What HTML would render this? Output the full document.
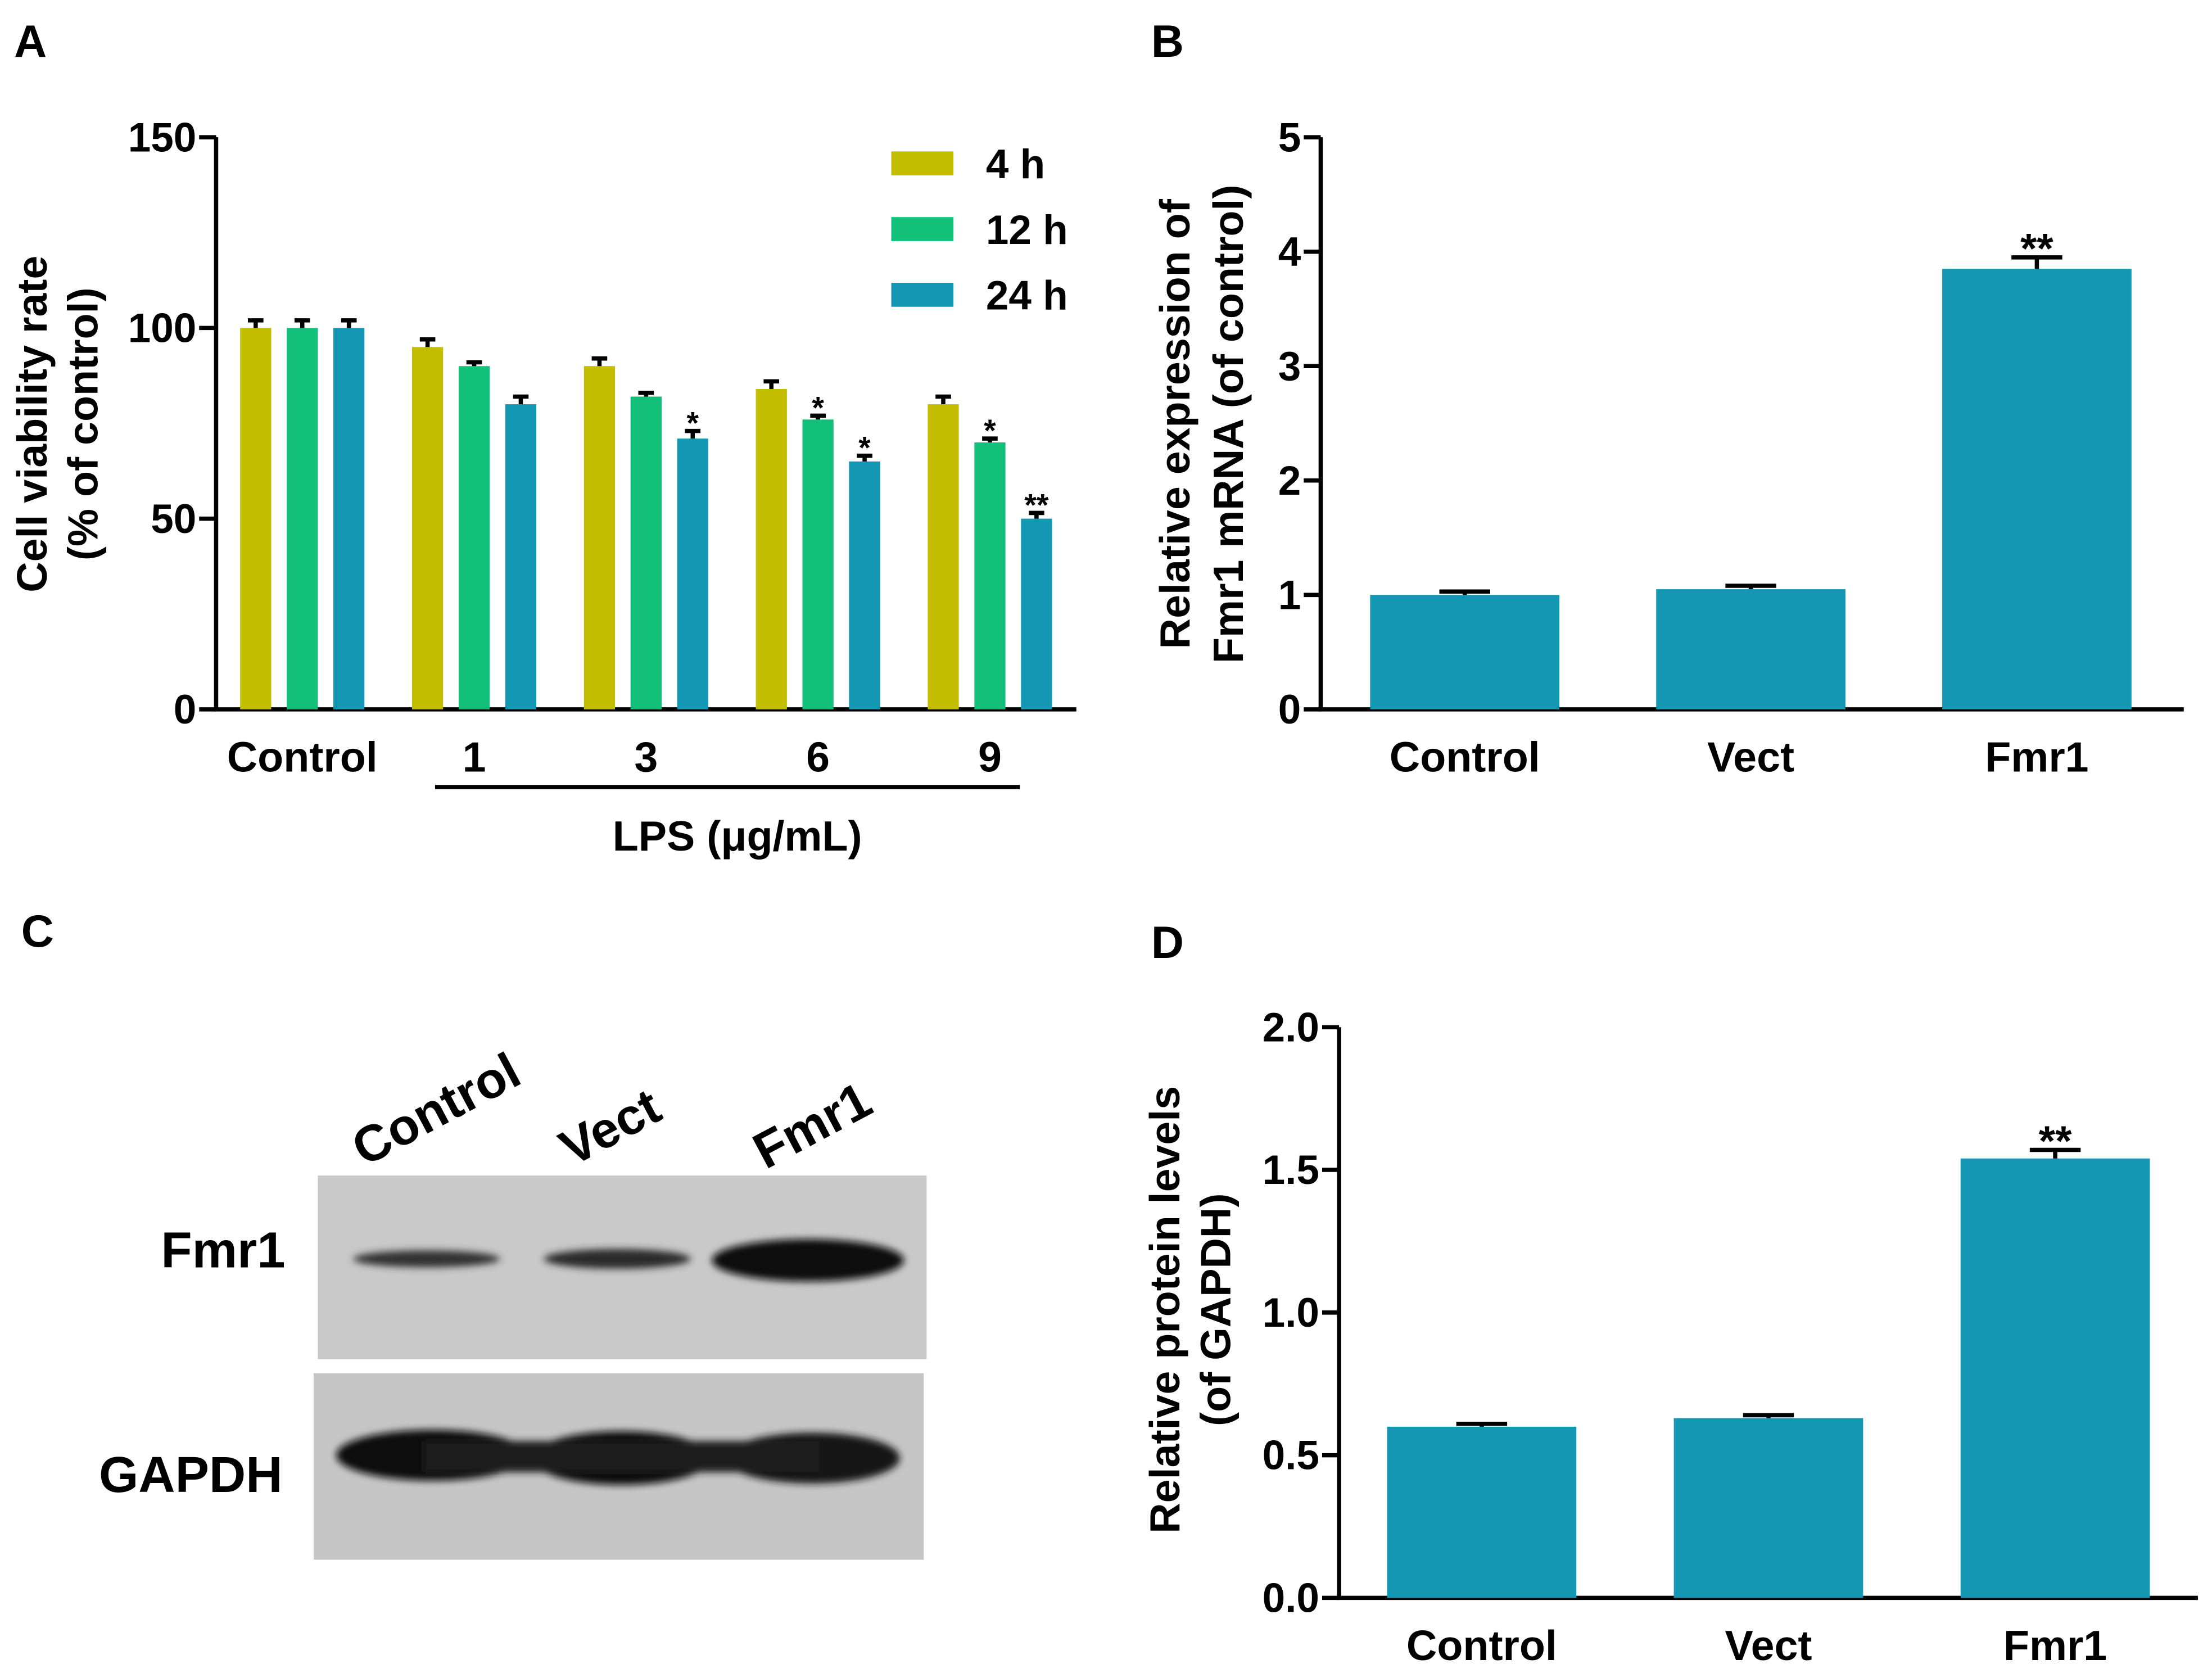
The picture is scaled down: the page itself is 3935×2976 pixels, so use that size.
<!DOCTYPE html>
<html><head><meta charset="utf-8"><style>
html,body{margin:0;padding:0;background:#fff}
svg{display:block}
text{font-family:"Liberation Sans",Arial,sans-serif;font-weight:bold;fill:#000}
</style></head><body>
<svg id="fig" width="3935" height="2976" viewBox="0 0 1566 1184" xmlns="http://www.w3.org/2000/svg">
<rect width="1566" height="1184" fill="#fff"/>
<text x="10" y="40" font-size="32">A</text>
<text x="815" y="40" font-size="32">B</text>
<text x="15" y="670" font-size="32">C</text>
<text x="815" y="678" font-size="32">D</text>

<g>
<defs>
<filter id="blur1"><feGaussianBlur stdDeviation="2.5"/></filter>
</defs>
<text x="0" y="0" font-size="36" transform="translate(258,826) rotate(-28)">Control</text>
<text x="0" y="0" font-size="36" transform="translate(405,826) rotate(-28)">Vect</text>
<text x="0" y="0" font-size="36" transform="translate(542,828) rotate(-28)">Fmr1</text>
<text x="202" y="897" font-size="36" text-anchor="end">Fmr1</text>
<text x="200" y="1056" font-size="36" text-anchor="end">GAPDH</text>
<rect x="225" y="832" width="431" height="130" fill="#c9c9c9"/>
<rect x="222" y="972" width="432" height="132" fill="#c6c6c6"/>
<g filter="url(#blur1)">
<ellipse cx="302" cy="891" rx="52" ry="6" fill="#333"/>
<ellipse cx="437" cy="891" rx="52" ry="7" fill="#2c2c2c"/>
<ellipse cx="572" cy="892" rx="68" ry="15" fill="#111"/>
<ellipse cx="306" cy="1030" rx="68" ry="18" fill="#111"/>
<ellipse cx="440" cy="1032" rx="64" ry="19" fill="#111"/>
<ellipse cx="575" cy="1032" rx="62" ry="18" fill="#151515"/>
<rect x="300" y="1020" width="280" height="22" fill="#1a1a1a"/>
</g>
</g>
<g id="charts"></g>
</svg>
<script>
const catsA = ["Control","1","3","6","9"];
const seriesNamesA = ["4 h","12 h","24 h"];
const vals4h = [100,95,90,84,80];
const vals12h = [100,90,82,76,70];
const vals24h = [100,80,71,65,50];
const err4h = [2,2,2,2,2];
const err12h = [2,1,1,1,1];
const err24h = [2,2,2,1.5,1.5];
const sig12h = ["","","","*","*"];
const sig24h = ["","","*","*","**"];
const ticksA = [0,50,100,150];
const catsB = ["Control","Vect","Fmr1"];
const valsB = [1.0,1.05,3.85];
const errB = [0.03,0.03,0.1];
const sigB = ["","","**"];
const ticksB = [0,1,2,3,4,5];
const catsD = ["Control","Vect","Fmr1"];
const valsD = [0.6,0.63,1.54];
const errD = [0.01,0.01,0.03];
const sigD = ["","","**"];
const ticksD = ["0.0","0.5","1.0","1.5","2.0"];

const NS="http://www.w3.org/2000/svg";
const root=document.getElementById('charts');
function mk(tag,attrs,parent,txt){const e=document.createElementNS(NS,tag);for(const k in attrs)e.setAttribute(k,attrs[k]);if(txt!==undefined)e.textContent=txt;(parent||root).appendChild(e);return e;}

function axes(g,x0,yTop,yBot,xEnd,ymax,ticks){
  const ys=v=>yBot-(v/ymax)*(yBot-yTop);
  const ya=mk('line',{x1:x0,y1:yTop,x2:x0,y2:yBot,stroke:'#000','stroke-width':3},g);
  
  
  const xa=mk('line',{x1:x0-1.5,y1:yBot,x2:xEnd,y2:yBot,stroke:'#000','stroke-width':3},g);
  
  
  ticks.forEach(t=>{const v=parseFloat(t);const y=ys(v);
    mk('line',{x1:x0-12,y1:y,x2:x0,y2:y,stroke:'#000','stroke-width':3},g);
    const tl=mk('text',{x:x0-14,y:y+10,'font-size':29,'text-anchor':'end'},g,String(t));
    
    
  });
  return ys;
}
function bar(g,cx,w,v,e,ys,color,sig){
  const b=mk('rect',{x:cx-w/2,y:ys(v),width:w,height:ys(0)-ys(v),fill:color},g);
  
  
  const yt=ys(v+e);
  mk('line',{x1:cx,y1:ys(v),x2:cx,y2:yt,stroke:'#000','stroke-width':3},g);
  const cw=Math.min(w*0.5,36);
  mk('line',{x1:cx-cw/2,y1:yt,x2:cx+cw/2,y2:yt,stroke:'#000','stroke-width':3},g);
  if(sig){const s=mk('text',{x:cx,y:yt+(w>50?4:2),'font-size':w>50?30:22,'text-anchor':'middle'},g,sig);
    
    }
}

const gA=mk('g',{});


const ysA=axes(gA,153,97,502,762,150,ticksA);
const colorsA=['#c3bf00','#12c07a','#1497b3'];
const seriesA=[vals4h,vals12h,vals24h],errsA=[err4h,err12h,err24h],sigsA=[null,sig12h,sig24h];
catsA.forEach((c,i)=>{const gc=181+33+i*121.7;
  seriesA.forEach((s,j)=>bar(gA,gc+(j-1)*33,22,s[i],errsA[j][i],ysA,colorsA[j],sigsA[j]?sigsA[j][i]:''));
  const l=mk('text',{x:gc,y:546,'font-size':30,'text-anchor':'middle'},gA,c);
  
  
});
mk('line',{x1:308,y1:557,x2:722,y2:557,stroke:'#000','stroke-width':3},gA);
const lps=mk('text',{x:522,y:602,'font-size':30,'text-anchor':'middle'},gA,'LPS (μg/mL)');


const ytA=mk('text',{transform:'translate(33,300) rotate(-90)','font-size':30,'text-anchor':'middle'},gA,'Cell viability rate');


const ytA2=mk('text',{transform:'translate(69,300) rotate(-90)','font-size':30,'text-anchor':'middle'},gA,'(% of control)');


seriesNamesA.forEach((n,j)=>{const y=115+j*46.5;
  const r=mk('rect',{x:631,y:y-8,width:44,height:17,fill:colorsA[j]},gA);
  
  
  const t=mk('text',{x:698,y:y+11,'font-size':29},gA,n);
  
  
});

const gB=mk('g',{});


const ysB=axes(gB,935,97,502,1546,5,ticksB);
catsB.forEach((c,i)=>{const cx=1037+i*202.5;
  bar(gB,cx,134,valsB[i],errB[i],ysB,'#1497b3',sigB[i]);
  const l=mk('text',{x:cx,y:546,'font-size':30,'text-anchor':'middle'},gB,c);
  
  
});
const ytB=mk('text',{transform:'translate(842,300) rotate(-90)','font-size':30,'text-anchor':'middle'},gB,'Relative expression of');


const ytB2=mk('text',{transform:'translate(880,300) rotate(-90)','font-size':30,'text-anchor':'middle'},gB,'Fmr1 mRNA (of control)');



const gD=mk('g',{});


const ysD=axes(gD,948,727,1131,1556,2,ticksD);
catsD.forEach((c,i)=>{const cx=1049+i*203;
  bar(gD,cx,134,valsD[i],errD[i],ysD,'#1497b3',sigD[i]);
  const l=mk('text',{x:cx,y:1175,'font-size':30,'text-anchor':'middle'},gD,c);
  
  
});
const ytD=mk('text',{transform:'translate(835,927) rotate(-90)','font-size':30,'text-anchor':'middle'},gD,'Relative protein levels');


const ytD2=mk('text',{transform:'translate(871,927) rotate(-90)','font-size':30,'text-anchor':'middle'},gD,'(of GAPDH)');


</script>
</body></html>
